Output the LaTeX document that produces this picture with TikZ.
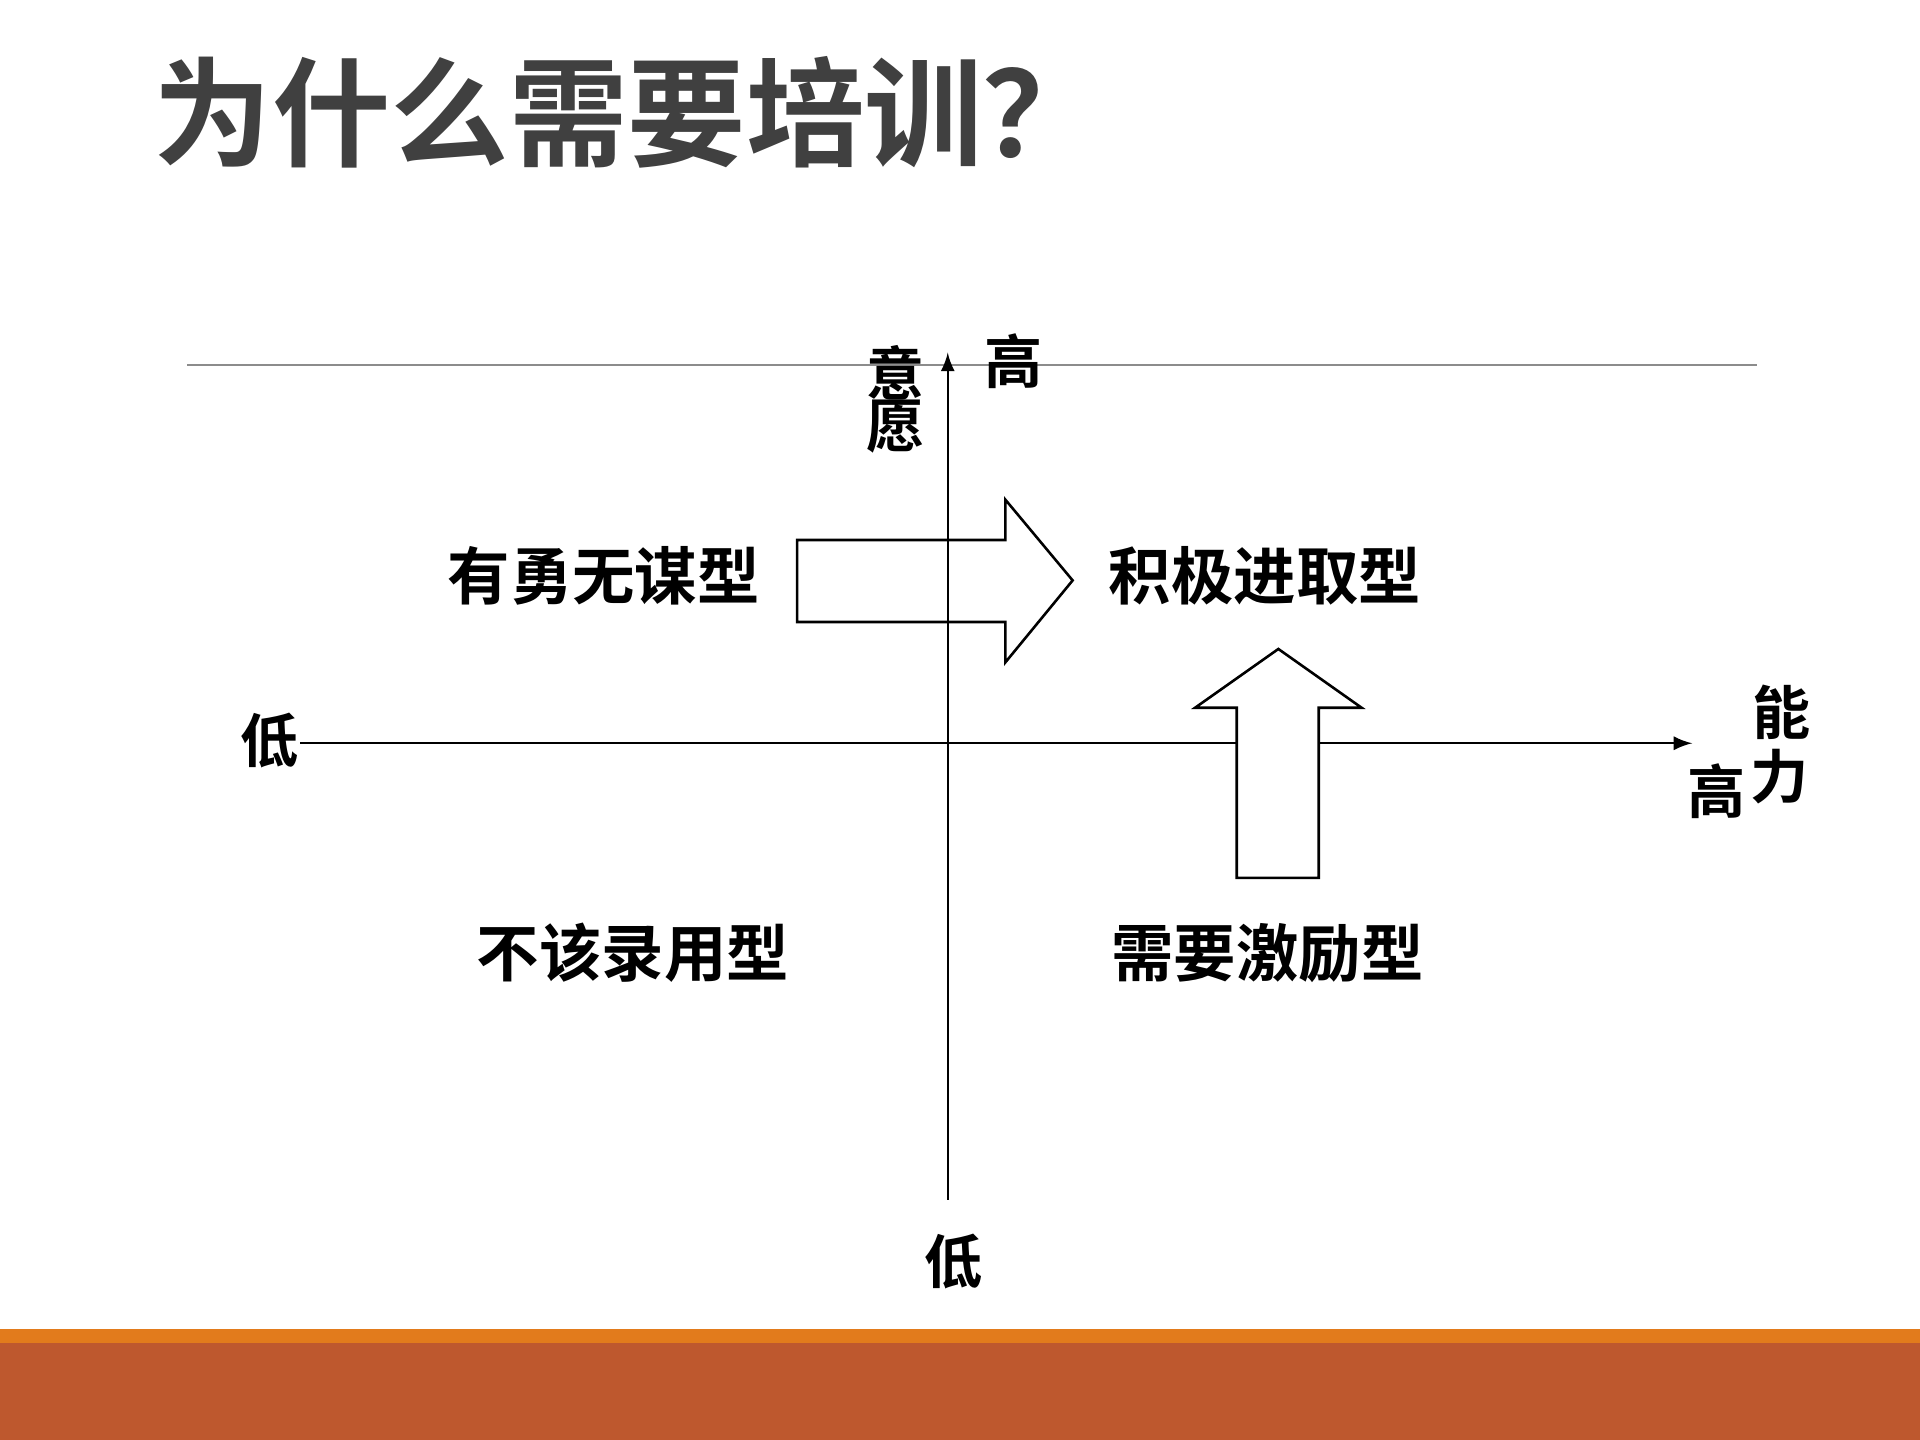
\documentclass[tikz,border=0pt]{standalone}
\usepackage{fontspec}
\newfontfamily\cjk{Noto Sans CJK SC}[BoldFont={Noto Sans CJK SC Bold}]
\begin{document}
\begin{tikzpicture}[x=0.01cm,y=-0.01cm,
  lbl/.style={font=\cjk\bfseries\fontsize{13.5}{14}\selectfont,inner sep=0pt},
  quad/.style={font=\cjk\bfseries\fontsize{14.5}{15}\selectfont,inner sep=0pt},
  axis/.style={draw=black,line width=0.5pt,-latex}]
\path[use as bounding box] (0,0) rectangle (1568,1176);
\fill[white] (0,0) rectangle (1568,1176);
\fill[orange!85!red!90!black] (0,1085) rectangle (1568,1097);
\fill[orange!50!red!75!black!95] (0,1097) rectangle (1568,1176);
\fill[color={rgb,255:red,190;green,88;blue,46}] (0,1097) rectangle (1568,1176);
\fill[color={rgb,255:red,226;green,123;blue,28}] (0,1085) rectangle (1568,1097);
\node[font=\cjk\bfseries\fontsize{27.5}{28}\selectfont,text=black!75,inner sep=0pt,anchor=west] (title) at (125,92) {为什么需要培训？};
\coordinate (la) at (153,298); \coordinate (lb) at (1435,298);
\draw[black!45,line width=0.4pt] (la) -- (lb);
\coordinate (vb) at (774,980); \coordinate (vt) at (774,288);
\coordinate (hl) at (245,607); \coordinate (hr) at (1382,607);
\draw[axis] (vb) -- (vt);
\draw[axis] (hl) -- (hr);
\node[lbl,align=center] (yi) at (731,326) {意\\[-2pt]愿};
\node[lbl] (gao1) at (828,295) {高};
\node[lbl] (di1) at (220,605) {低};
\node[lbl] (di2) at (779,1030) {低};
\node[lbl] (neng) at (1455,582) {能};
\node[lbl] (li) at (1453,634) {力};
\node[lbl] (gao2) at (1402,646) {高};
\node[quad] (q1) at (493,470) {有勇无谋型};
\node[quad] (q2) at (1033,470) {积极进取型};
\node[quad] (q3) at (517,778) {不该录用型};
\node[quad] (q4) at (1035,778) {需要激励型};
\draw[black,line width=0.6pt] (651,441) -- (821,441) -- (821,408) -- (876,474) -- (821,541) -- (821,508) -- (651,508) -- cycle;
\draw[black,line width=0.6pt,fill=white] (1010,717) -- (1010,578) -- (976,578) -- (1044,530) -- (1112,578) -- (1077,578) -- (1077,717) -- cycle;
\end{tikzpicture}
\end{document}
